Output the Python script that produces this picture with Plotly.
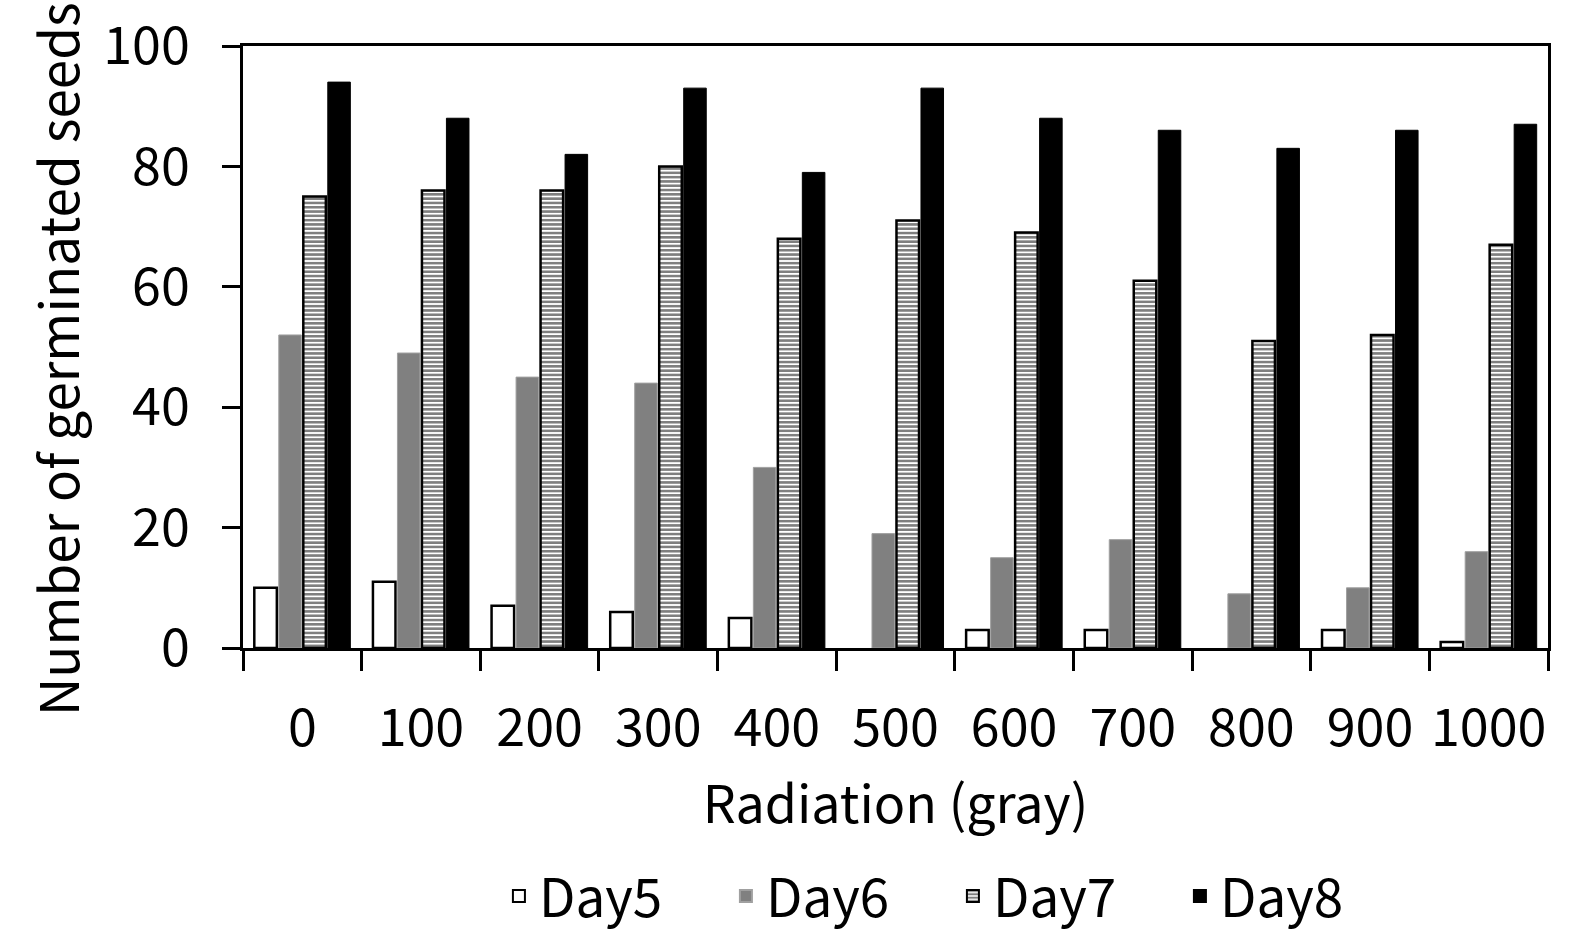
import plotly.graph_objects as go

radiation = ["0", "100", "200", "300", "400", "500", "600", "700", "800", "900", "1000"]
day5 = [10, 11, 7, 6, 5, 0, 3, 3, 0, 3, 1]
day6 = [52, 49, 45, 44, 30, 19, 15, 18, 9, 10, 16]
day7 = [75, 76, 76, 80, 68, 71, 69, 61, 51, 52, 67]
day8 = [94, 88, 82, 93, 79, 93, 88, 86, 83, 86, 87]

FONT = "Noto Sans CJK KR"
FS = 52

day5_line = [2.5 if v > 0 else 0 for v in day5]

fig = go.Figure()
fig.add_trace(go.Bar(name="Day5", x=radiation, y=day5,
                     marker=dict(color="white", line=dict(color="black", width=day5_line))))
fig.add_trace(go.Bar(name="Day6", x=radiation, y=day6,
                     marker=dict(color="#808080", line=dict(color="#a0a0a0", width=1))))
fig.add_trace(go.Bar(name="Day7", x=radiation, y=day7,
                     marker=dict(color="white", line=dict(color="black", width=2.5),
                                 pattern=dict(shape="-", fgcolor="black", bgcolor="white",
                                              size=4.3, solidity=0.6, fillmode="overlay"))))
fig.add_trace(go.Bar(name="Day8", x=radiation, y=day8,
                     marker=dict(color="black", line=dict(color="black", width=1))))

fig.update_layout(
    width=1586, height=935,
    margin=dict(l=243, r=38, t=46, b=287, autoexpand=False),
    paper_bgcolor="white", plot_bgcolor="white",
    barmode="group", bargap=0.174, bargroupgap=0.08,
    font=dict(family=FONT, size=FS, color="black"),
    showlegend=True,
    legend=dict(orientation="h", x=0.544, xanchor="center", y=-0.412, yanchor="middle",
                font=dict(size=53), itemsizing="constant", traceorder="normal",
                entrywidth=182),
    annotations=[dict(text="Number of germinated seeds", textangle=-90,
                      xref="paper", yref="paper", x=-0.1433, y=0.48,
                      xanchor="center", yanchor="middle", showarrow=False,
                      font=dict(size=53, family=FONT, color="black"))],
)
fig.update_xaxes(
    type="category", tickson="boundaries", ticks="outside", ticklen=20, tickwidth=2.5,
    tickcolor="black", showline=True, linecolor="black", linewidth=2.5, mirror=True,
    showgrid=False, ticklabelstandoff=33, automargin=False, tickangle=0,
    title=dict(text="Radiation (gray)", font=dict(size=FS), standoff=27),
)
fig.update_yaxes(
    range=[0, 100], tickvals=[0, 20, 40, 60, 80, 100], ticks="outside", ticklen=18,
    tickwidth=2.5, tickcolor="black", showline=True, linecolor="black", linewidth=2.5,
    mirror=True, showgrid=False, zeroline=False, ticklabelstandoff=22, automargin=False,
)

fig.write_html("out.html")
